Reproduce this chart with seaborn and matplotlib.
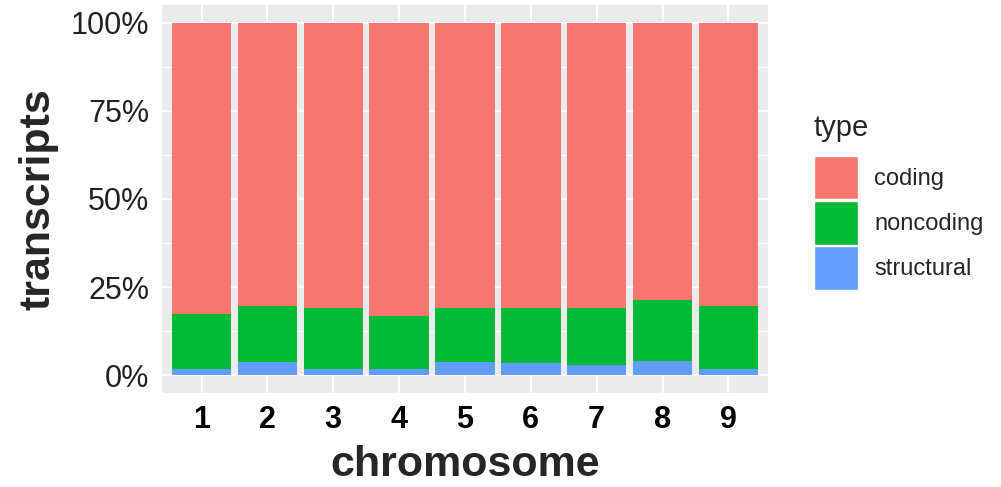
import matplotlib
matplotlib.use("Agg")
import matplotlib.pyplot as plt
from matplotlib.patches import Patch
from matplotlib.ticker import PercentFormatter, MultipleLocator
import numpy as np
import pandas as pd
import seaborn as sns

# values (percent of transcripts per chromosome)
chromosomes = ["1", "2", "3", "4", "5", "6", "7", "8", "9"]
structural = [1.9, 3.7, 1.9, 1.9, 3.7, 3.6, 3.0, 4.2, 1.9]
noncoding = [15.4, 15.9, 17.1, 14.9, 15.3, 15.4, 16.0, 17.1, 17.7]
coding = [100 - s - n for s, n in zip(structural, noncoding)]

types = ["coding", "noncoding", "structural"]
colors = {"coding": "#F8766D", "noncoding": "#00BA38", "structural": "#619CFF"}

df = pd.DataFrame({
    "chromosome": chromosomes,
    "structural": structural,
    "noncoding": noncoding,
    "coding": coding,
})
# stacked tops, drawn back to front
df["top_structural"] = df["structural"]
df["top_noncoding"] = df["structural"] + df["noncoding"]
df["top_coding"] = df["top_noncoding"] + df["coding"]

sns.set_theme(style="white")
plt.rcParams["font.family"] = ["Liberation Sans", "DejaVu Sans"]

fig = plt.figure(figsize=(10.01, 4.87), dpi=100)
ax = fig.add_axes([162 / 1001, 94 / 487, 606 / 1001, 388 / 487])
ax.set_facecolor("#EBEBEB")

for t in types:
    sns.barplot(data=df, x="chromosome", y="top_" + t, order=chromosomes,
                color=colors[t], width=0.9, saturation=1, ax=ax,
                edgecolor="none", linewidth=0, zorder=3)

ax.set_xlim(-0.6, 8.6)
ax.set_ylim(-5, 105)
ax.yaxis.set_major_locator(MultipleLocator(25))
ax.yaxis.set_minor_locator(MultipleLocator(12.5))
ax.yaxis.set_major_formatter(PercentFormatter(decimals=0))

ax.grid(which="major", color="white", linewidth=1.4, zorder=0)
ax.grid(which="minor", axis="y", color="white", linewidth=0.7, zorder=0)
ax.set_axisbelow(True)
for s in ax.spines.values():
    s.set_visible(False)

ax.tick_params(axis="both", which="major", length=4, width=1, color="#333333",
               labelsize=22, labelcolor="#222222", pad=5)
ax.tick_params(axis="y", which="minor", length=0)
for lab in ax.get_xticklabels():
    lab.set_fontweight("bold")
    lab.set_color("black")

ax.set_xlabel("chromosome", fontsize=31, fontweight="bold", labelpad=7)
ax.set_ylabel("transcripts", fontsize=31, fontweight="bold", labelpad=9)

handles = [Patch(facecolor=colors[t], edgecolor="white", linewidth=1, label=t)
           for t in types]
leg = ax.legend(handles=handles, title="type", loc="upper left",
                bbox_to_anchor=(814 / 1001, 1 - 114 / 487),
                bbox_transform=fig.transFigure, frameon=False,
                fontsize=17, title_fontsize=21, handlelength=1.85,
                handleheight=2.45, labelspacing=0.08, handletextpad=0.7,
                borderpad=0, borderaxespad=0)
leg._legend_box.align = "left"
leg._legend_box.sep = 10

fig.savefig("out.png", dpi=100)
